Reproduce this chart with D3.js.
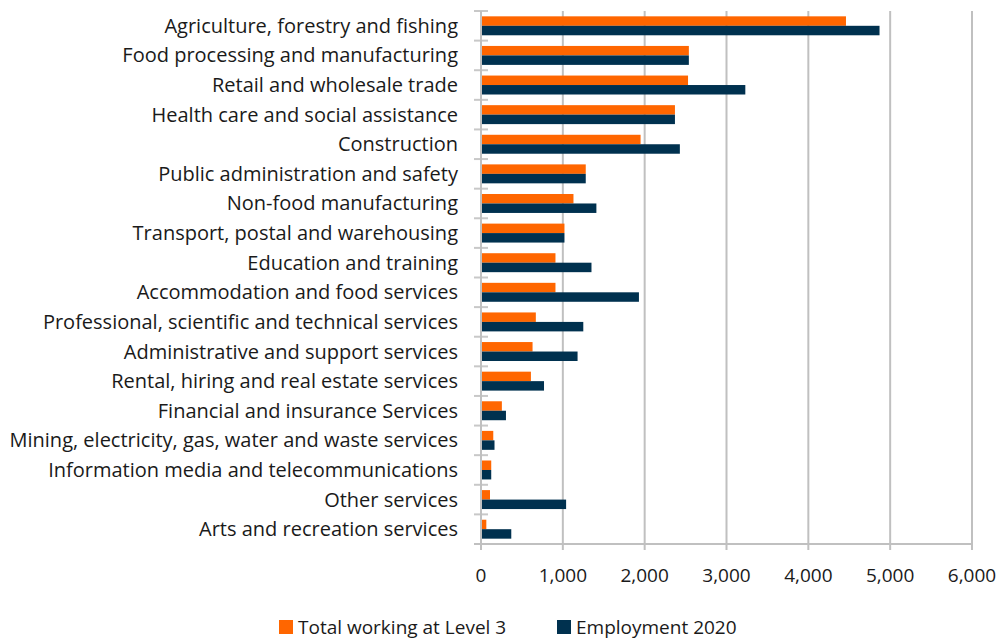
<!DOCTYPE html>
<html>
<head>
<meta charset="utf-8">
<script src="https://cdn.jsdelivr.net/npm/d3@7"></script>
<style>
  body { margin: 0; background: #fff; }
  text { font-family: "Open Sans", "Noto Sans", sans-serif; fill: #1a1a1a; }
</style>
</head>
<body>
<div id="chart"></div>
<script>
// Industries, top to bottom
const industries = [
  "Agriculture, forestry and fishing",
  "Food processing and manufacturing",
  "Retail and wholesale trade",
  "Health care and social assistance",
  "Construction",
  "Public administration and safety",
  "Non-food manufacturing",
  "Transport, postal and warehousing",
  "Education and training",
  "Accommodation and food services",
  "Professional, scientific and technical services",
  "Administrative and support services",
  "Rental, hiring and real estate services",
  "Financial and insurance Services",
  "Mining, electricity, gas, water and waste services",
  "Information media and telecommunications",
  "Other services",
  "Arts and recreation services"
];

const level3 = [4460, 2540, 2530, 2370, 1950, 1280, 1130, 1020, 910, 910, 670, 630, 610, 255, 150, 125, 110, 65];
const employment = [4870, 2540, 3230, 2370, 2430, 1280, 1410, 1020, 1350, 1930, 1250, 1180, 770, 305, 165, 125, 1040, 370];

const seriesNames = ["Total working at Level 3", "Employment 2020"];
const seriesColors = ["#FF6600", "#00314F"];
const xTicks = [0, 1000, 2000, 3000, 4000, 5000, 6000];

const width = 1002, height = 638;
const margin = { top: 11, right: 30, bottom: 94, left: 481 };
const innerWidth = width - margin.left - margin.right;
const innerHeight = height - margin.top - margin.bottom;

const svg = d3.select("#chart")
  .append("svg")
  .attr("width", width)
  .attr("height", height);

const inner = svg.append("g")
  .attr("transform", `translate(${margin.left}, ${margin.top})`);

const xScale = d3.scaleLinear()
  .domain([0, 6000])
  .range([0, innerWidth]);

const yScale = d3.scaleBand()
  .domain(industries)
  .range([0, innerHeight])
  .paddingInner(0.36)
  .paddingOuter(0.18);

const subScale = d3.scaleBand()
  .domain([0, 1])
  .range([0, yScale.bandwidth()]);

// Gridlines
inner.append("g")
  .selectAll("line")
  .data(xTicks)
  .join("line")
    .attr("x1", d => xScale(d))
    .attr("x2", d => xScale(d))
    .attr("y1", 0)
    .attr("y2", innerHeight + 6)
    .attr("stroke", "#c0c0c0")
    .attr("stroke-width", 2);

// Category tick marks on left
const step = yScale.step();
inner.append("g")
  .selectAll("line")
  .data(d3.range(industries.length + 1))
  .join("line")
    .attr("x1", -7)
    .attr("x2", 7)
    .attr("y1", i => i * step)
    .attr("y2", i => i * step)
    .attr("stroke", "#c8c8c8")
    .attr("stroke-width", 2);

// Bars
const rows = industries.map((name, i) => ({ name, values: [level3[i], employment[i]] }));

const groups = inner.append("g")
  .selectAll("g")
  .data(rows)
  .join("g")
    .attr("transform", d => `translate(0, ${yScale(d.name)})`);

groups.selectAll("rect")
  .data(d => d.values.map((v, k) => ({ v, k })))
  .join("rect")
    .attr("x", xScale(0))
    .attr("y", d => subScale(d.k))
    .attr("width", d => xScale(d.v) - xScale(0))
    .attr("height", subScale.bandwidth())
    .attr("fill", d => seriesColors[d.k]);

// Axis lines
inner.append("line")
  .attr("x1", 0).attr("x2", 0)
  .attr("y1", 0).attr("y2", innerHeight)
  .attr("stroke", "#c0c0c0").attr("stroke-width", 2);
inner.append("line")
  .attr("x1", -7).attr("x2", innerWidth)
  .attr("y1", innerHeight).attr("y2", innerHeight)
  .attr("stroke", "#c0c0c0").attr("stroke-width", 2);

// Category labels
inner.append("g")
  .selectAll("text")
  .data(industries)
  .join("text")
    .attr("x", -23)
    .attr("y", d => yScale(d) + yScale.bandwidth() / 2)
    .attr("dy", "0.35em")
    .attr("text-anchor", "end")
    .attr("font-size", 20)
    .text(d => d);

// X tick labels
const fmt = d3.format(",");
inner.append("g")
  .selectAll("text")
  .data(xTicks)
  .join("text")
    .attr("x", d => xScale(d))
    .attr("y", innerHeight + 31)
    .attr("dy", "0.35em")
    .attr("text-anchor", "middle")
    .attr("font-size", 19)
    .text(d => fmt(d));

// Legend
const legend = svg.append("g")
  .attr("transform", `translate(279, 627)`);
const legendX = [0, 278];
seriesNames.forEach((name, i) => {
  const g = legend.append("g").attr("transform", `translate(${legendX[i]}, 0)`);
  g.append("rect")
    .attr("x", 0).attr("y", -7)
    .attr("width", 14).attr("height", 14)
    .attr("fill", seriesColors[i]);
  g.append("text")
    .attr("x", 19)
    .attr("y", 0)
    .attr("dy", "0.35em")
    .attr("font-size", 19)
    .text(name);
});
</script>
</body>
</html>
